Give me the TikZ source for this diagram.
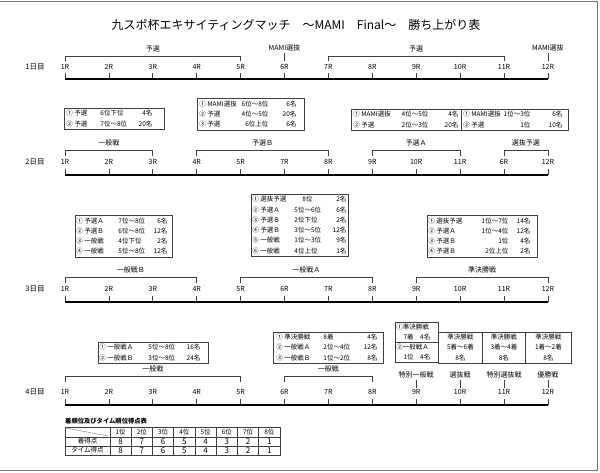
\documentclass[tikz,border=0pt]{standalone}
\usepackage{fontspec}
\setmainfont{Noto Sans CJK JP}
\usepackage{array}
\newcolumntype{L}[1]{>{\raggedright\arraybackslash}p{#1}}
\newcolumntype{R}[1]{>{\raggedleft\arraybackslash}p{#1}}
\tikzset{
  rl/.style={font=\fontsize{7}{8}\selectfont, inner sep=0pt, text=black},
  dl/.style={font=\fontsize{7.5}{8}\selectfont, inner sep=0pt, text=black},
  brk/.style={draw=black!75, line width=0.8pt},
  tkk/.style={draw=black!75, line width=0.8pt},
  tline/.style={draw=black, line width=2.4pt},
  bx/.style={draw=black!75, line width=0.8pt, inner sep=0pt, anchor=north west,
     font=\fontsize{6.5}{10.3}\selectfont, text=black},
  tbl/.style={draw=black!75, line width=0.7pt},
  tb/.style={font=\fontsize{6.5}{8}\selectfont, inner sep=0pt, text=black},
  tn/.style={font=\fontsize{8}{9}\selectfont, inner sep=0pt, text=black},
}
% #1 first pos, #2 last pos, #3 y of bar, #4 y of feet, #5 label, #6 name
\newcommand\mybracket[6]{%
  \draw[brk] ({65+43.9*(#1-1)},#4) |- ({65+43.9*(#2-1)},#3) -- ({65+43.9*(#2-1)},#4);
  \node[rl] (#6) at ({65+43.9*(#1+#2-2)/2},#3-7.5) {#5};}
% #1 pos, #2 y label, #3 label, #4 name
\newcommand\mysingle[4]{%
  \node[rl] (#4) at ({65+43.9*(#1-1)},#2) {#3};
  \draw[tkk] ([yshift=-1.5pt]#4.south) -- ++(0,8);}
\begin{document}
\begin{tikzpicture}[x=1pt,y=-1pt]
\useasboundingbox (0,0) rectangle (600,473);
\fill[white] (0,0) rectangle (600,473);
\draw[black!55, line width=1pt] (0,1.5) -- (597,1.5) -- (597,470.5) -- (0,470.5);

\node[font=\fontsize{12}{14}\selectfont, text=black] (title) at (296,25)
  {九スポ杯エキサイティングマッチ　～MAMI　Final～　勝ち上がり表};

% ---------- Day 1
\node[dl] (day1) at (35,67) {1日目};
\foreach \i in {1,...,12}{
  \node[rl] (a\i) at ({65+43.9*(\i-1)},67) {\i R};
  \draw[tkk] ({65+43.9*(\i-1)},79) -- ++(0,-6);}
\draw[tline] (65,79) -- (547.9,79);
\mybracket{1}{5}{56}{61}{予選}{a-b1}
\mybracket{7}{11}{56}{61}{予選}{a-b2}
\mysingle{6}{48}{MAMI選抜}{a-s1}
\mysingle{12}{48}{MAMI選抜}{a-s2}

\node[bx, minimum width=100pt, minimum height=21pt] (bxA) at (64,108)
 {\begin{tabular}{@{\hspace{2pt}}L{34pt}@{}L{30pt}@{}R{22pt}@{\hspace{12pt}}}
  ① 予選 & 6位下位 & 4名\\
  ② 予選 & 7位～8位 & 20名\end{tabular}};
\node[bx, minimum width=107pt, minimum height=32pt] (bxB) at (197,98)
 {\begin{tabular}{@{\hspace{2pt}}L{38pt}@{}R{31pt}@{}R{28pt}@{\hspace{8pt}}}
  ① MAMI選抜 & 6位～8位 & 6名\\
  ② 予選 & 4位～5位 & 20名\\
  ③ 予選 & 6位上位 & 6名\end{tabular}};
\node[bx, minimum width=110pt, minimum height=21pt] (bxC) at (351,109)
 {\begin{tabular}{@{\hspace{2pt}}L{38pt}@{}R{37pt}@{}R{30pt}@{\hspace{3pt}}}
  ① MAMI選抜 & 4位～5位 & 4名\\
  ② 予選 & 2位～3位 & 20名\end{tabular}};
\node[bx, minimum width=107pt, minimum height=21pt] (bxD) at (461,109)
 {\begin{tabular}{@{\hspace{2pt}}L{38pt}@{}R{29pt}@{}R{32pt}@{\hspace{6pt}}}
  ① MAMI選抜 & 1位～3位 & 6名\\
  ② 予選 & 1位 & 10名\end{tabular}};

% ---------- Day 2
\node[dl] (day2) at (35,162) {2日目};
\foreach \i/\t in {1/1R,2/2R,3/3R,4/4R,5/5R,6/7R,7/8R,8/9R,9/10R,10/11R,11/6R,12/12R}{
  \node[rl] (b\i) at ({65+43.9*(\i-1)},162) {\t};
  \draw[tkk] ({65+43.9*(\i-1)},175) -- ++(0,-6);}
\draw[tline] (65,175) -- (547.9,175);
\mybracket{1}{3}{150}{156}{一般戦}{b-b1}
\mybracket{4}{7}{150}{156}{予選Ｂ}{b-b2}
\mybracket{8}{10}{150}{156}{予選Ａ}{b-b3}
\mybracket{11}{12}{150}{156}{選抜予選}{b-b4}

\node[bx, minimum width=97pt, minimum height=42pt] (bxE) at (75,215)
 {\begin{tabular}{@{\hspace{1pt}}L{42pt}@{}L{29pt}@{}R{20pt}@{\hspace{5pt}}}
  ① 予選Ａ & 7位～8位 & 6名\\
  ② 予選Ｂ & 6位～8位 & 12名\\
  ③ 一般戦 & 4位下位 & 2名\\
  ④ 一般戦 & 5位～8位 & 12名\end{tabular}};
\node[bx, minimum width=97pt, minimum height=62pt] (bxF) at (251,194)
 {\begin{tabular}{@{\hspace{1pt}}L{42pt}@{}L{30pt}@{}R{22pt}@{\hspace{2pt}}}
  ① 選抜予選 & \hspace{8pt}8位 & 2名\\
  ② 予選Ａ & 5位～6位 & 6名\\
  ③ 予選Ｂ & 2位下位 & 2名\\
  ④ 予選Ｂ & 3位～5位 & 12名\\
  ⑤ 一般戦 & 1位～3位 & 9名\\
  ⑥ 一般戦 & 4位上位 & 1名\end{tabular}};
\node[bx, minimum width=110pt, minimum height=42pt] (bxG) at (427,215)
 {\begin{tabular}{@{\hspace{1pt}}L{42pt}@{}R{38pt}@{}R{22pt}@{\hspace{7pt}}}
  ① 選抜予選 & 1位～7位 & 14名\\
  ② 予選Ａ & 1位～4位 & 12名\\
  ③ 予選Ｂ & 1位 & 4名\\
  ④ 予選Ｂ & 2位上位 & 2名\end{tabular}};

% ---------- Day 3
\node[dl] (day3) at (35,289) {3日目};
\foreach \i in {1,...,12}{
  \node[rl] (c\i) at ({65+43.9*(\i-1)},289) {\i R};
  \draw[tkk] ({65+43.9*(\i-1)},302) -- ++(0,-6);}
\draw[tline] (65,302) -- (547.9,302);
\mybracket{1}{4}{277}{283}{一般戦Ｂ}{c-b1}
\mybracket{5}{8}{277}{283}{一般戦Ａ}{c-b2}
\mybracket{9}{12}{277}{283}{準決勝戦}{c-b3}

\node[bx, minimum width=110pt, minimum height=21pt] (bxH) at (98,342)
 {\begin{tabular}{@{\hspace{1pt}}L{49pt}@{}L{30pt}@{}R{22pt}@{\hspace{8pt}}}
  ① 一般戦Ａ & 5位～8位 & 16名\\
  ② 一般戦Ｂ & 3位～8位 & 24名\end{tabular}};
\node[bx, minimum width=110pt, minimum height=31pt] (bxI) at (273,332)
 {\begin{tabular}{@{\hspace{3pt}}L{47pt}@{}L{30pt}@{}R{24pt}@{\hspace{6pt}}}
  ① 準決勝戦 & 8着 & 4名\\
  ② 一般戦Ａ & 2位～4位 & 12名\\
  ③ 一般戦Ｂ & 1位～2位 & 8名\end{tabular}};
\node[bx, minimum width=43pt, minimum height=20pt] (bxJ1) at (395,322)
 {\begin{tabular}{@{}c@{}}\makebox[41pt][l]{①準決勝戦}\\[-0.3pt]7着　4名\end{tabular}};
\node[bx, minimum width=43pt, minimum height=20pt] (bxJ2) at (395,342)
 {\begin{tabular}{@{}c@{}}\makebox[41pt][l]{②一般戦Ａ}\\[-0.3pt]1位　4名\end{tabular}};
\node[bx, minimum width=44pt, minimum height=30pt] (bxK) at (438,332)
 {\begin{tabular}{@{}c@{}}準決勝戦\\5着～6着\\8名\end{tabular}};
\node[bx, minimum width=43pt, minimum height=30pt] (bxL) at (482,332)
 {\begin{tabular}{@{}c@{}}準決勝戦\\3着～4着\\8名\end{tabular}};
\node[bx, minimum width=46pt, minimum height=30pt] (bxM) at (525,332)
 {\begin{tabular}{@{}c@{}}準決勝戦\\1着～2着\\8名\end{tabular}};

% ---------- Day 4
\node[dl] (day4) at (35,392) {4日目};
\foreach \i in {1,...,12}{
  \node[rl] (d\i) at ({65+43.9*(\i-1)},392) {\i R};
  \draw[tkk] ({65+43.9*(\i-1)},405) -- ++(0,-6);}
\draw[tline] (65,405) -- (547.9,405);
\mybracket{1}{5}{376}{382}{一般戦}{d-b1}
\mybracket{6}{8}{376}{382}{一般戦}{d-b2}
\mysingle{9}{375}{特別一般戦}{d-s1}
\mysingle{10}{375}{選抜戦}{d-s2}
\mysingle{11}{375}{特別選抜戦}{d-s3}
\mysingle{12}{375}{優勝戦}{d-s4}

% ---------- points table
\node[font=\fontsize{6.3}{7}\selectfont\bfseries, inner sep=0pt, anchor=west, text=black]
  (ttitle) at (65,421.5) {着順位及びタイム順位得点表};
\draw[tbl] (65,427) rectangle (280,455);
\foreach \k in {0,...,7} \draw[tbl] ({110+21.25*\k},427) -- ({110+21.25*\k},455);
\draw[tbl] (65,437) -- (280,437);
\draw[tbl] (65,446) -- (280,446);
\draw[black!45, line width=0.5pt] (66,428) -- (108,436);
\node[tb] (r2) at (87.5,441.5) {着得点};
\node[tb] (r3) at (87.5,450.5) {タイム得点};
\foreach \k in {1,...,8}{
  \pgfmathtruncatemacro\v{9-\k}
  \node[tb] (h\k) at ({99.375+21.25*\k},432) {\k 位};
  \node[tn] (p\k) at ({99.375+21.25*\k},441.5) {\v};
  \node[tn] (q\k) at ({99.375+21.25*\k},450.5) {\v};}
\end{tikzpicture}
\end{document}
